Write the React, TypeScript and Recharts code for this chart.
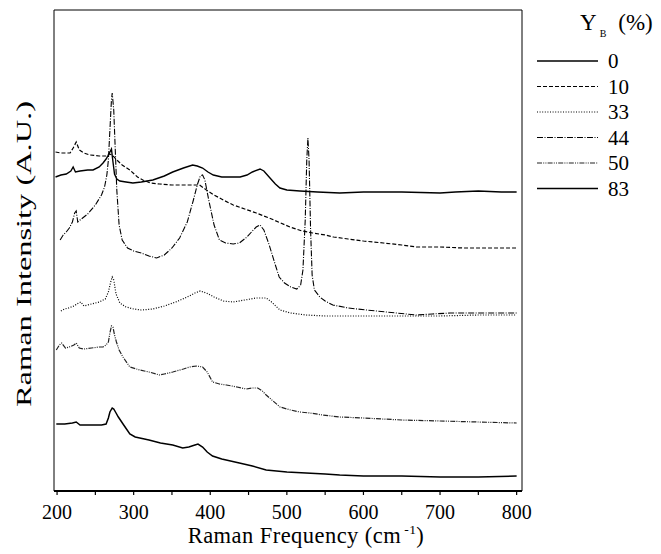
import React from 'react';
import { LineChart, Line, XAxis, YAxis, ReferenceArea } from 'recharts';

// Raman frequency (cm^-1) sample points and intensities (A.U.)
const FREQ_0 = [198,205,212,218,221,224,230,240,247,255,260,264,267,269,271,273,275,278,282,290,299,310,325,340,351,365,377,383,390,397,404,415,425,439,448,455,465,470,478,485,491,500,517,540,569,600,650,700,720,750,780,800];
const INT_0 = [314,316,317,320,324,319,320,321,321,324,328,332,336,339,342,329,317,312,310,309,308,309,311,315,319,323,326,325,323,319,316,314,314,314,316,319,322,320,313,307,303,301,300,299,298,299,299,298,299,300,299,299];

const FREQ_10 = [198,205,212,217,221,225,229,235,243,255,264,268,272,278,285,295,305,312,322,334,350,370,386,395,405,417,430,445,460,480,504,520,534,550,561,580,600,626,650,669,700,730,760,800];
const INT_10 = [339,338,338,338,343,349,341,338,336,335,335,337,336,331,326,321,314,311,308,307,306,306,306,301,296,291,286,282,278,272,264,260,258,256,254,252,250,248,246,244,244,243,243,243];

const FREQ_33 = [205,210,215,222,228,231,235,245,255,263,267,270,272,274,277,282,290,300,310,325,340,355,370,380,387,395,405,417,430,445,460,473,480,491,505,525,550,600,650,700,750,800];
const INT_33 = [180,182,183,185,188,189,185,187,189,192,199,209,214,211,197,188,184,182,181,182,185,189,194,198,200,198,194,190,189,191,193,193,189,181,178,176,175,175,175,175,176,176];

const FREQ_44 = [204,208,212,216,220,223,225,227,230,240,250,258,262,265,267,269,271,272,274,276,278,281,285,292,300,310,320,330,340,350,360,370,378,383,387,390,393,398,405,412,420,430,438,448,455,460,465,470,477,485,490,497,505,513,518,521,524,526,527.5,529,531,533,536,543,550,560,580,604,630,669,690,713,740,770,800];
const INT_44 = [251,256,259,263,269,278,280,269,271,277,286,296,304,316,331,361,391,398,381,341,301,266,251,243,240,238,235,233,236,243,253,269,291,306,315,316,311,291,266,251,248,247,248,254,260,264,266,261,246,226,214,208,204,202,206,221,271,331,353,331,261,216,201,194,190,186,183,181,179,176,177,178,178,178,178];

const FREQ_50 = [199,203,206,211,216,222,225,229,235,245,255,260,264,267,269,271,273,275,277.5,281,286,295,308,320,334,340,351,365,373,382,390,396,403,412,421,435,447,455,462,468,473,482,491,505,517,530,547,569,600,650,700,750,800];
const INT_50 = [141,146,148,143,144,146,148,143,142,143,144,144,146,149,158,165,164,156,149,141,134,124,121,119,116,117,119,122,124,125,124,119,109,107,106,104,102,103,103,100,96,90,84,81,79,78,76,74,73,71,70,69,68];

const FREQ_83 = [199,210,220,225,230,240,250,258,264,267,269,272,274,277,280,287,295,302,308,320,335,351,364,372,380,384,390,396,403,415,438,455,473,500,525,550,569,600,650,700,750,800];
const INT_83 = [67,67,68,69,66,66,66,66,67,73,79,83,82,78,74,66,57,54,53,51,48,46,43,44,46,47,44,39,35,32,28,25,21,19,18,17,16,15,15,14,14,15];

const SERIES_NAMES = ['0', '10', '33', '44', '50', '83'];
const X_TICKS = [200, 250, 300, 350, 400, 450, 500, 550, 600, 650, 700, 750, 800];
const X_DOMAIN = [196, 807];
const Y_DOMAIN = [0, 481];

const toPoints = (f: number[], v: number[]) => f.map((x, i) => ({ x, y: v[i] }));

const SERIES = [
  { name: SERIES_NAMES[0], data: toPoints(FREQ_0, INT_0), stroke: '#000', width: 1.4, dash: undefined as string | undefined },
  { name: SERIES_NAMES[1], data: toPoints(FREQ_10, INT_10), stroke: '#000', width: 1.2, dash: '4 2' },
  { name: SERIES_NAMES[2], data: toPoints(FREQ_33, INT_33), stroke: '#000', width: 1.2, dash: '1 1.6' },
  { name: SERIES_NAMES[3], data: toPoints(FREQ_44, INT_44), stroke: '#000', width: 1.1, dash: '6 1.5 1 1.5' },
  { name: SERIES_NAMES[4], data: toPoints(FREQ_50, INT_50), stroke: '#222', width: 1.2, dash: '5 1.2 1 1.2 1 1.2' },
  { name: SERIES_NAMES[5], data: toPoints(FREQ_83, INT_83), stroke: '#000', width: 1.5, dash: undefined },
];

const FONT = "'Liberation Serif', 'Times New Roman', Tinos, 'DejaVu Serif', serif";
const TEXT_STYLE = { fontFamily: FONT };

const XLabel = (props: any) => {
  const vb = props.viewBox || { x: 0, y: 0, width: 0, height: 0 };
  const cx = vb.x + vb.width / 2 + 18;
  return (
    <text x={cx} y={vb.y + 52} textAnchor="middle" style={{ ...TEXT_STYLE, letterSpacing: 0.45 }} fontSize={22.5} fill="#000">
      Raman  Frequency (cm
      <tspan dx={3} dy={-9} fontSize={13.5}>-1</tspan>
      <tspan dy={9}>)</tspan>
    </text>
  );
};

const Overlay = () => (
  <svg width={661} height={554} style={{ position: 'absolute', left: 0, top: 0, pointerEvents: 'none', fontFamily: FONT }}>
    <text
      transform="translate(31, 254) rotate(-90)"
      textAnchor="middle"
      style={TEXT_STYLE}
      fontSize={21}
      fill="#000"
      textLength={306}
      lengthAdjust="spacingAndGlyphs"
    >
      Raman Intensity (A.U.)
    </text>
    <text x={580} y={30} style={TEXT_STYLE} fontSize={23} fill="#000">
      Y
      <tspan dx={3} dy={7} fontSize={10}>B</tspan>
      <tspan dx={12} dy={-7}>(%)</tspan>
    </text>
    {SERIES.map((s, i) => {
      const y = 61 + i * 25.5;
      return (
        <g key={s.name}>
          <line x1={537} x2={598} y1={y} y2={y} stroke={s.stroke} strokeWidth={s.width} strokeDasharray={s.dash} />
          <text x={608} y={y + 7} style={TEXT_STYLE} fontSize={21} fill="#000">{s.name}</text>
        </g>
      );
    })}
  </svg>
);

export default function App() {
  return (
    <div style={{ position: 'absolute', left: 0, top: 0, width: 661, height: 554, background: '#fff', fontFamily: FONT }}>
      <LineChart width={661} height={554} margin={{ top: 10, right: 139, bottom: 23, left: 54 }} style={{ fontFamily: FONT }}>
        <XAxis
          dataKey="x"
          type="number"
          domain={X_DOMAIN}
          ticks={X_TICKS}
          allowDataOverflow
          height={40}
          tickSize={4}
          tickMargin={9.5}
          tickFormatter={(v: number) => (v % 100 === 0 ? String(v) : '')}
          tick={{ fontSize: 20, fill: '#000', style: TEXT_STYLE }}
          tickLine={{ stroke: '#000', strokeWidth: 1.2 }}
          axisLine={{ stroke: '#000', strokeWidth: 2 }}
          label={{ content: XLabel }}
        />
        <YAxis
          type="number"
          domain={Y_DOMAIN}
          allowDataOverflow
          width={0}
          tick={false}
          tickLine={false}
          axisLine={{ stroke: '#555', strokeWidth: 1.5 }}
        />
        <ReferenceArea x1={X_DOMAIN[0]} x2={X_DOMAIN[1]} y1={Y_DOMAIN[0]} y2={Y_DOMAIN[1]} fill="none" stroke="#000" strokeWidth={1} />
        {SERIES.map((s) => (
          <Line
            key={s.name}
            data={s.data}
            dataKey="y"
            name={s.name}
            type="linear"
            stroke={s.stroke}
            strokeWidth={s.width}
            strokeDasharray={s.dash}
            dot={false}
            activeDot={false}
            isAnimationActive={false}
          />
        ))}
      </LineChart>
      <Overlay />
    </div>
  );
}
